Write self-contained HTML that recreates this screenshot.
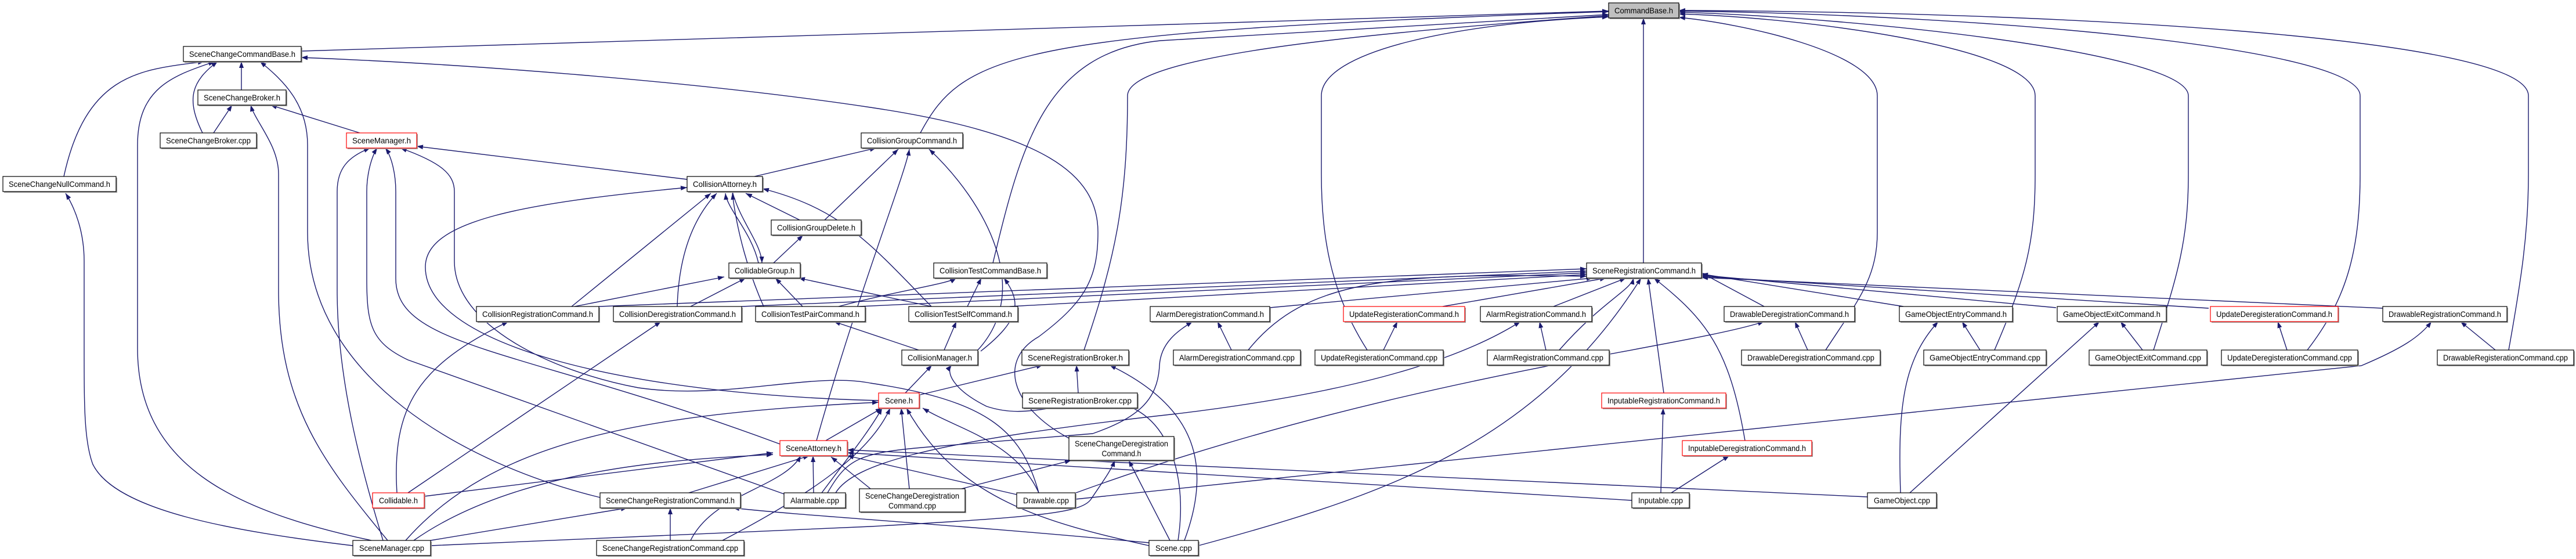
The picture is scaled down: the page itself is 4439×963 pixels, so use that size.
<!DOCTYPE html>
<html><head><meta charset="utf-8"><style>
html,body{margin:0;padding:0;background:#fff;}
svg{display:block;}
.e{fill:none;stroke:#1a1a6e;stroke-width:1.4;}
.s{fill:#9a9a9a;}
.b{fill:#fff;stroke:#000;stroke-width:1.2;}
.r{fill:#fff;stroke:#ff0000;stroke-width:1.2;}
.g{fill:#bfbfbf;stroke:#000;stroke-width:1.2;}
text{font-family:"Liberation Sans",sans-serif;font-size:14px;fill:#000;text-anchor:middle;}
</style></head><body>
<svg width="4439" height="963" viewBox="0 0 4439 963" xmlns="http://www.w3.org/2000/svg">
<defs><marker id="a" markerUnits="userSpaceOnUse" markerWidth="12" markerHeight="9" refX="11" refY="4" orient="auto"><path d="M0,0 L11,4 L0,8 z" fill="#1a1a6e"/></marker></defs>
<g class="e" marker-end="url(#a)">
<path d="M519,88 L2772,19"/>
<path d="M1586,229 C1660,90 1750,55 2772,20"/>
<path d="M1711,453 C1760,250 1800,90 2000,70 L2772,25"/>
<path d="M1868,603 C1920,450 1943,350 1943,165 C1943,100 2300,60 2772,27"/>
<path d="M2356,603 C2290,500 2277,400 2277,300 L2277,165 C2277,90 2500,40 2772,29"/>
<path d="M2832,453 L2832,31"/>
<path d="M3146,603 C3200,520 3235,480 3235,400 L3235,165 C3235,90 3000,40 2893,30"/>
<path d="M3437,603 C3490,480 3507,420 3507,300 L3507,165 C3507,80 3100,30 2893,24"/>
<path d="M3711,603 C3750,480 3771,420 3771,300 L3771,165 C3771,90 3200,30 2893,21"/>
<path d="M3976,603 C4040,520 4067,440 4067,300 L4067,165 C4067,80 3400,25 2893,19"/>
<path d="M4323,603 C4345,480 4357,400 4357,300 L4357,165 C4357,60 3500,20 2893,18"/>
<path d="M110,304 C150,120 250,120 352,106"/>
<path d="M640,931 C400,880 237,800 237,600 L237,250 C237,150 300,130 370,106"/>
<path d="M416,155 L416,106"/>
<path d="M349,229 C320,170 330,140 375,106"/>
<path d="M1034,857 C800,800 530,650 530,400 L530,250 C530,180 490,140 448,106"/>
<path d="M1842,755 C1740,700 1720,620 1790,580 C1870,520 1892,480 1892,400 C1892,300 1800,230 1500,185 C1200,140 800,110 519,99"/>
<path d="M368,229 L400,181"/>
<path d="M668,931 C560,800 480,700 480,500 L480,300 C480,250 440,210 432,181"/>
<path d="M620,229 L466,181"/>
<path d="M1184,309 L718,252"/>
<path d="M660,931 C620,800 581,650 581,500 L581,330 C581,290 600,270 638,255"/>
<path d="M1351,851 L703,620 C640,590 632,560 632,480 L632,330 C632,300 640,270 650,255"/>
<path d="M1344,765 C900,600 682,600 682,480 L682,330 C682,300 675,270 664,255"/>
<path d="M1790,849 C1760,740 1700,690 1500,660 C1400,640 1250,690 1100,668 C950,640 783,560 783,450 L783,330 C783,300 760,280 690,255"/>
<path d="M1300,304 L1510,255"/>
<path d="M1514,690 C1100,680 733,600 733,460 C733,380 900,350 1184,323"/>
<path d="M985,528 L1225,333"/>
<path d="M1167,528 C1170,430 1200,370 1235,333"/>
<path d="M1307,453 C1295,400 1253,360 1250,333"/>
<path d="M1262,330 C1275,380 1312,420 1313,453"/>
<path d="M1378,379 L1285,333"/>
<path d="M1605,528 C1500,420 1450,360 1314,325"/>
<path d="M1316,528 C1290,470 1270,400 1262,333"/>
<path d="M990,528 L1248,477"/>
<path d="M1190,528 L1285,479"/>
<path d="M1383,528 L1336,479"/>
<path d="M1605,528 L1376,479"/>
<path d="M1333,453 L1384,405"/>
<path d="M1421,379 L1548,257"/>
<path d="M1407,759 C1480,500 1560,300 1567,257"/>
<path d="M1685,603 C1780,500 1700,350 1601,257"/>
<path d="M1445,528 C1550,500 1630,490 1648,479"/>
<path d="M1667,528 L1691,479"/>
<path d="M1690,605 C1760,550 1760,520 1730,479"/>
<path d="M1627,603 L1648,554"/>
<path d="M1583,603 L1437,554"/>
<path d="M1560,677 L1606,629"/>
<path d="M2030,931 C2050,800 2000,690 1900,693 C1800,700 1760,720 1700,700 C1640,670 1630,640 1640,629"/>
<path d="M684,849 C675,700 720,630 876,554"/>
<path d="M703,849 L1139,554"/>
<path d="M1032,528 L2734,463"/>
<path d="M1278,528 L2734,467"/>
<path d="M1480,528 L2734,470"/>
<path d="M1740,528 L2734,473"/>
<path d="M2188,530 L2745,479"/>
<path d="M2486,528 L2768,479"/>
<path d="M2677,528 L2802,479"/>
<path d="M2151,603 C2250,480 2400,470 2734,476"/>
<path d="M2687,603 C2760,520 2810,500 2815,479"/>
<path d="M2065,940 C2400,850 2650,760 2828,479"/>
<path d="M2867,677 L2840,479"/>
<path d="M3007,759 C2980,600 2940,550 2850,479"/>
<path d="M1854,849 C2400,650 2900,600 3040,554"/>
<path d="M3040,528 L2932,470"/>
<path d="M3280,528 L2932,472"/>
<path d="M3543,530 L2932,474"/>
<path d="M3806,531 L2932,476"/>
<path d="M4106,531 L2932,478"/>
<path d="M1853,860 L4069,630 C4140,600 4170,580 4190,554"/>
<path d="M2122,603 L2098,554"/>
<path d="M2384,603 L2408,554"/>
<path d="M2664,603 L2653,554"/>
<path d="M3115,603 L3093,554"/>
<path d="M3412,603 L3381,554"/>
<path d="M3692,603 L3654,554"/>
<path d="M3941,603 L3925,554"/>
<path d="M4300,603 L4240,554"/>
<path d="M3275,849 C3270,700 3280,620 3340,554"/>
<path d="M3291,849 L3618,554"/>
<path d="M2862,849 L2866,703"/>
<path d="M2880,849 L2980,785"/>
<path d="M1426,849 C1460,790 1480,780 1600,770 L1883,747 C1960,720 1995,690 1998,630 C2000,590 2030,570 2055,554"/>
<path d="M1440,849 C1470,800 1600,760 2026,713 C2300,680 2500,630 2620,554"/>
<path d="M1858,677 L1855,629"/>
<path d="M1586,680 L1797,629"/>
<path d="M2041,931 C2090,800 2060,700 1912,629"/>
<path d="M1423,759 L1520,703"/>
<path d="M699,931 C850,760 1100,713 1514,693"/>
<path d="M713,931 C900,800 1200,790 1332,783"/>
<path d="M731,855 L1332,780"/>
<path d="M1567,842 L1553,703"/>
<path d="M1980,940 C1800,900 1650,860 1562,703"/>
<path d="M1790,849 C1750,760 1650,740 1590,703"/>
<path d="M1416,849 C1460,790 1500,740 1520,703"/>
<path d="M1245,931 C1400,850 1500,780 1534,703"/>
<path d="M1187,849 L1395,785"/>
<path d="M1190,931 C1230,850 1350,840 1380,785"/>
<path d="M1402,849 L1401,785"/>
<path d="M1500,842 L1432,787"/>
<path d="M1752,852 L1460,785"/>
<path d="M2812,862 L1460,780"/>
<path d="M3218,856 L1460,775"/>
<path d="M1657,842 L1846,793"/>
<path d="M742,940 L1500,907 C1800,890 1864,883 1880,860 C1900,830 1915,810 1921,793"/>
<path d="M2016,931 L1945,793"/>
<path d="M742,931 L1081,875"/>
<path d="M1155,931 L1155,875"/>
<path d="M1980,935 C1600,900 1400,890 1263,875"/>
<path d="M608,940 C400,915 200,880 160,800 C145,760 145,700 145,600 L145,450 C145,400 130,360 113,333"/>
</g>
<g>
<rect class="s" x="2774" y="7" width="121" height="26"/><rect class="g" x="2772" y="5" width="121" height="26"/><text x="2832.5" y="23" textLength="101" lengthAdjust="spacingAndGlyphs">CommandBase.h</text>
<rect class="s" x="318" y="82" width="203" height="26"/><rect class="b" x="316" y="80" width="203" height="26"/><text x="417.5" y="98" textLength="183" lengthAdjust="spacingAndGlyphs">SceneChangeCommandBase.h</text>
<rect class="s" x="343" y="157" width="152" height="26"/><rect class="b" x="341" y="155" width="152" height="26"/><text x="417" y="173" textLength="132" lengthAdjust="spacingAndGlyphs">SceneChangeBroker.h</text>
<rect class="s" x="278" y="231" width="166" height="26"/><rect class="b" x="276" y="229" width="166" height="26"/><text x="359" y="247" textLength="146" lengthAdjust="spacingAndGlyphs">SceneChangeBroker.cpp</text>
<rect class="s" x="599" y="231" width="121" height="26"/><rect class="r" x="597" y="229" width="121" height="26"/><text x="657.5" y="247" textLength="101" lengthAdjust="spacingAndGlyphs">SceneManager.h</text>
<rect class="s" x="1486" y="231" width="175" height="26"/><rect class="b" x="1484" y="229" width="175" height="26"/><text x="1571.5" y="247" textLength="155" lengthAdjust="spacingAndGlyphs">CollisionGroupCommand.h</text>
<rect class="s" x="7" y="306" width="195" height="26"/><rect class="b" x="5" y="304" width="195" height="26"/><text x="102.5" y="322" textLength="175" lengthAdjust="spacingAndGlyphs">SceneChangeNullCommand.h</text>
<rect class="s" x="1186" y="306" width="130" height="26"/><rect class="b" x="1184" y="304" width="130" height="26"/><text x="1249" y="322" textLength="110" lengthAdjust="spacingAndGlyphs">CollisionAttorney.h</text>
<rect class="s" x="1331" y="381" width="155" height="26"/><rect class="b" x="1329" y="379" width="155" height="26"/><text x="1406.5" y="397" textLength="135" lengthAdjust="spacingAndGlyphs">CollisionGroupDelete.h</text>
<rect class="s" x="1258" y="455" width="123" height="26"/><rect class="b" x="1256" y="453" width="123" height="26"/><text x="1317.5" y="471" textLength="103" lengthAdjust="spacingAndGlyphs">CollidableGroup.h</text>
<rect class="s" x="1611" y="455" width="195" height="26"/><rect class="b" x="1609" y="453" width="195" height="26"/><text x="1706.5" y="471" textLength="175" lengthAdjust="spacingAndGlyphs">CollisionTestCommandBase.h</text>
<rect class="s" x="2736" y="455" width="198" height="26"/><rect class="b" x="2734" y="453" width="198" height="26"/><text x="2833" y="471" textLength="178" lengthAdjust="spacingAndGlyphs">SceneRegistrationCommand.h</text>
<rect class="s" x="823" y="530" width="211" height="26"/><rect class="b" x="821" y="528" width="211" height="26"/><text x="926.5" y="546" textLength="191" lengthAdjust="spacingAndGlyphs">CollisionRegistrationCommand.h</text>
<rect class="s" x="1059" y="530" width="221" height="26"/><rect class="b" x="1057" y="528" width="221" height="26"/><text x="1167.5" y="546" textLength="201" lengthAdjust="spacingAndGlyphs">CollisionDeregistrationCommand.h</text>
<rect class="s" x="1304" y="530" width="189" height="26"/><rect class="b" x="1302" y="528" width="189" height="26"/><text x="1396.5" y="546" textLength="169" lengthAdjust="spacingAndGlyphs">CollisionTestPairCommand.h</text>
<rect class="s" x="1568" y="530" width="188" height="26"/><rect class="b" x="1566" y="528" width="188" height="26"/><text x="1660" y="546" textLength="168" lengthAdjust="spacingAndGlyphs">CollisionTestSelfCommand.h</text>
<rect class="s" x="1984" y="530" width="206" height="26"/><rect class="b" x="1982" y="528" width="206" height="26"/><text x="2085" y="546" textLength="186" lengthAdjust="spacingAndGlyphs">AlarmDeregistrationCommand.h</text>
<rect class="s" x="2317" y="530" width="209" height="26"/><rect class="r" x="2315" y="528" width="209" height="26"/><text x="2419.5" y="546" textLength="189" lengthAdjust="spacingAndGlyphs">UpdateRegisterationCommand.h</text>
<rect class="s" x="2553" y="530" width="192" height="26"/><rect class="b" x="2551" y="528" width="192" height="26"/><text x="2647" y="546" textLength="172" lengthAdjust="spacingAndGlyphs">AlarmRegistrationCommand.h</text>
<rect class="s" x="2973" y="530" width="225" height="26"/><rect class="b" x="2971" y="528" width="225" height="26"/><text x="3083.5" y="546" textLength="205" lengthAdjust="spacingAndGlyphs">DrawableDeregistrationCommand.h</text>
<rect class="s" x="3275" y="530" width="195" height="26"/><rect class="b" x="3273" y="528" width="195" height="26"/><text x="3370.5" y="546" textLength="175" lengthAdjust="spacingAndGlyphs">GameObjectEntryCommand.h</text>
<rect class="s" x="3547" y="530" width="188" height="26"/><rect class="b" x="3545" y="528" width="188" height="26"/><text x="3639" y="546" textLength="168" lengthAdjust="spacingAndGlyphs">GameObjectExitCommand.h</text>
<rect class="s" x="3811" y="530" width="220" height="26"/><rect class="r" x="3809" y="528" width="220" height="26"/><text x="3919" y="546" textLength="200" lengthAdjust="spacingAndGlyphs">UpdateDeregisterationCommand.h</text>
<rect class="s" x="4108" y="530" width="214" height="26"/><rect class="b" x="4106" y="528" width="214" height="26"/><text x="4213" y="546" textLength="194" lengthAdjust="spacingAndGlyphs">DrawableRegistrationCommand.h</text>
<rect class="s" x="1556" y="605" width="131" height="26"/><rect class="b" x="1554" y="603" width="131" height="26"/><text x="1619.5" y="621" textLength="111" lengthAdjust="spacingAndGlyphs">CollisionManager.h</text>
<rect class="s" x="1763" y="605" width="184" height="26"/><rect class="b" x="1761" y="603" width="184" height="26"/><text x="1853" y="621" textLength="164" lengthAdjust="spacingAndGlyphs">SceneRegistrationBroker.h</text>
<rect class="s" x="2024" y="605" width="219" height="26"/><rect class="b" x="2022" y="603" width="219" height="26"/><text x="2131.5" y="621" textLength="199" lengthAdjust="spacingAndGlyphs">AlarmDeregistrationCommand.cpp</text>
<rect class="s" x="2268" y="605" width="221" height="26"/><rect class="b" x="2266" y="603" width="221" height="26"/><text x="2376.5" y="621" textLength="201" lengthAdjust="spacingAndGlyphs">UpdateRegisterationCommand.cpp</text>
<rect class="s" x="2565" y="605" width="210" height="26"/><rect class="b" x="2563" y="603" width="210" height="26"/><text x="2668" y="621" textLength="190" lengthAdjust="spacingAndGlyphs">AlarmRegistrationCommand.cpp</text>
<rect class="s" x="3003" y="605" width="239" height="26"/><rect class="b" x="3001" y="603" width="239" height="26"/><text x="3120.5" y="621" textLength="219" lengthAdjust="spacingAndGlyphs">DrawableDeregistrationCommand.cpp</text>
<rect class="s" x="3317" y="605" width="211" height="26"/><rect class="b" x="3315" y="603" width="211" height="26"/><text x="3420.5" y="621" textLength="191" lengthAdjust="spacingAndGlyphs">GameObjectEntryCommand.cpp</text>
<rect class="s" x="3602" y="605" width="203" height="26"/><rect class="b" x="3600" y="603" width="203" height="26"/><text x="3701.5" y="621" textLength="183" lengthAdjust="spacingAndGlyphs">GameObjectExitCommand.cpp</text>
<rect class="s" x="3830" y="605" width="235" height="26"/><rect class="b" x="3828" y="603" width="235" height="26"/><text x="3945.5" y="621" textLength="215" lengthAdjust="spacingAndGlyphs">UpdateDeregisterationCommand.cpp</text>
<rect class="s" x="4202" y="605" width="235" height="26"/><rect class="b" x="4200" y="603" width="235" height="26"/><text x="4317.5" y="621" textLength="215" lengthAdjust="spacingAndGlyphs">DrawableRegisterationCommand.cpp</text>
<rect class="s" x="1516" y="679" width="70" height="26"/><rect class="r" x="1514" y="677" width="70" height="26"/><text x="1549" y="695" textLength="48" lengthAdjust="spacingAndGlyphs">Scene.h</text>
<rect class="s" x="1764" y="679" width="198" height="26"/><rect class="b" x="1762" y="677" width="198" height="26"/><text x="1861" y="695" textLength="178" lengthAdjust="spacingAndGlyphs">SceneRegistrationBroker.cpp</text>
<rect class="s" x="2762" y="679" width="214" height="26"/><rect class="r" x="2760" y="677" width="214" height="26"/><text x="2867" y="695" textLength="194" lengthAdjust="spacingAndGlyphs">InputableRegistrationCommand.h</text>
<rect class="s" x="1346" y="761" width="116" height="26"/><rect class="r" x="1344" y="759" width="116" height="26"/><text x="1402" y="777" textLength="96" lengthAdjust="spacingAndGlyphs">SceneAttorney.h</text>
<rect class="s" x="2901" y="761" width="223" height="26"/><rect class="r" x="2899" y="759" width="223" height="26"/><text x="3010.5" y="777" textLength="203" lengthAdjust="spacingAndGlyphs">InputableDeregistrationCommand.h</text>
<rect class="s" x="1844" y="754" width="181" height="41"/><rect class="b" x="1842" y="752" width="181" height="41"/><text x="1932.5" y="769" textLength="161" lengthAdjust="spacingAndGlyphs">SceneChangeDeregistration</text><text x="1932.5" y="786" textLength="68" lengthAdjust="spacingAndGlyphs">Command.h</text>
<rect class="s" x="644" y="851" width="89" height="26"/><rect class="r" x="642" y="849" width="89" height="26"/><text x="686.5" y="867" textLength="67" lengthAdjust="spacingAndGlyphs">Collidable.h</text>
<rect class="s" x="1036" y="851" width="242" height="26"/><rect class="b" x="1034" y="849" width="242" height="26"/><text x="1155" y="867" textLength="222" lengthAdjust="spacingAndGlyphs">SceneChangeRegistrationCommand.h</text>
<rect class="s" x="1353" y="851" width="106" height="26"/><rect class="b" x="1351" y="849" width="106" height="26"/><text x="1404" y="867" textLength="84" lengthAdjust="spacingAndGlyphs">Alarmable.cpp</text>
<rect class="s" x="1754" y="851" width="101" height="26"/><rect class="b" x="1752" y="849" width="101" height="26"/><text x="1802.5" y="867" textLength="79" lengthAdjust="spacingAndGlyphs">Drawable.cpp</text>
<rect class="s" x="2814" y="851" width="99" height="26"/><rect class="b" x="2812" y="849" width="99" height="26"/><text x="2861.5" y="867" textLength="77" lengthAdjust="spacingAndGlyphs">Inputable.cpp</text>
<rect class="s" x="3220" y="851" width="119" height="26"/><rect class="b" x="3218" y="849" width="119" height="26"/><text x="3277.5" y="867" textLength="97" lengthAdjust="spacingAndGlyphs">GameObject.cpp</text>
<rect class="s" x="1483" y="844" width="182" height="40"/><rect class="b" x="1481" y="842" width="182" height="40"/><text x="1572" y="859" textLength="162" lengthAdjust="spacingAndGlyphs">SceneChangeDeregistration</text><text x="1572" y="876" textLength="82" lengthAdjust="spacingAndGlyphs">Command.cpp</text>
<rect class="s" x="610" y="933" width="134" height="26"/><rect class="b" x="608" y="931" width="134" height="26"/><text x="675" y="949" textLength="112" lengthAdjust="spacingAndGlyphs">SceneManager.cpp</text>
<rect class="s" x="1030" y="933" width="254" height="26"/><rect class="b" x="1028" y="931" width="254" height="26"/><text x="1155" y="949" textLength="234" lengthAdjust="spacingAndGlyphs">SceneChangeRegistrationCommand.cpp</text>
<rect class="s" x="1982" y="933" width="85" height="26"/><rect class="b" x="1980" y="931" width="85" height="26"/><text x="2022.5" y="949" textLength="63" lengthAdjust="spacingAndGlyphs">Scene.cpp</text>
</g>
</svg>
</body></html>
